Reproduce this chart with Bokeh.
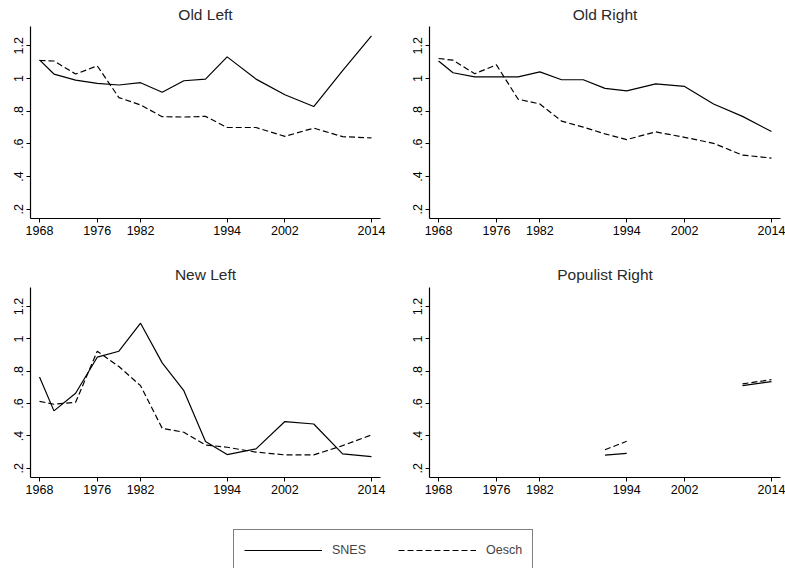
import numpy as np
from bokeh.plotting import figure
from bokeh.layouts import column, row
from bokeh.models import (FixedTicker, CustomJSTickFormatter, Range1d, Legend,
                          LegendItem, ColumnDataSource)
from bokeh.embed import file_html
from bokeh.resources import INLINE

nan = float("nan")

years = [1968, 1970, 1973, 1976, 1979, 1982, 1985, 1988, 1991, 1994,
         1998, 2002, 2006, 2010, 2014]
x_ticks = [1968, 1976, 1982, 1994, 2002, 2014]
y_ticks = [0.2, 0.4, 0.6, 0.8, 1.0, 1.2]

panel_titles = ["Old Left", "Old Right", "New Left", "Populist Right"]
series_names = ["SNES", "Oesch"]

old_left_snes = [1.114, 1.027, 0.990, 0.970, 0.960, 0.974, 0.916, 0.986, 0.996,
                 1.132, 0.996, 0.900, 0.828, 1.048, 1.260]
old_left_oesch = [1.110, 1.107, 1.027, 1.077, 0.883, 0.838, 0.766, 0.764, 0.768,
                  0.700, 0.700, 0.646, 0.696, 0.644, 0.636]

old_right_snes = [1.107, 1.035, 1.010, 1.010, 1.010, 1.040, 0.992, 0.992, 0.939,
                  0.924, 0.967, 0.951, 0.844, 0.768, 0.675]
old_right_oesch = [1.122, 1.112, 1.029, 1.083, 0.873, 0.844, 0.739, 0.702, 0.661,
                   0.626, 0.673, 0.640, 0.603, 0.531, 0.513]

new_left_snes = [0.765, 0.555, 0.664, 0.887, 0.924, 1.097, 0.852, 0.680, 0.365,
                 0.285, 0.320, 0.489, 0.474, 0.289, 0.272]
new_left_oesch = [0.614, 0.596, 0.608, 0.924, 0.829, 0.711, 0.447, 0.423, 0.344,
                  0.330, 0.300, 0.283, 0.283, 0.340, 0.406]

populist_right_snes = [nan, nan, nan, nan, nan, nan, nan, nan, 0.281,
                       0.292, nan, nan, nan, 0.711, 0.736]
populist_right_oesch = [nan, nan, nan, nan, nan, nan, nan, nan, 0.315,
                        0.367, nan, nan, nan, 0.722, 0.748]

FONT = "Liberation Sans"
DASH = "6 3"


def panel(title, snes, oesch, width, height, mbl, mbr, mbt, mbb, standoff):
    p = figure(width=width, height=height,
               x_range=Range1d(1966.75, 2015.25), y_range=Range1d(0.143, 1.318),
               output_backend="svg", toolbar_location=None,
               min_border_left=mbl, min_border_right=mbr,
               min_border_top=mbt, min_border_bottom=mbb)
    p.title.text = title
    p.title.align = "center"
    p.title.text_font = FONT
    p.title.text_font_size = "15.5px"
    p.title.text_font_style = "normal"
    p.title.text_color = "#2a2a2a"
    p.title.standoff = standoff
    src = ColumnDataSource(dict(x=years,
                                s=np.array(snes, dtype=float),
                                o=np.array(oesch, dtype=float)))
    p.line("x", "s", source=src, line_color="black", line_width=1.2)
    p.line("x", "o", source=src, line_color="black", line_width=1.2,
           line_dash=DASH)
    p.xgrid.visible = False
    p.ygrid.visible = False
    p.outline_line_color = None
    p.background_fill_color = "white"
    p.border_fill_color = "white"
    p.xaxis.ticker = FixedTicker(ticks=x_ticks)
    p.yaxis.ticker = FixedTicker(ticks=y_ticks)
    p.yaxis.formatter = CustomJSTickFormatter(code="""
        let s = tick.toFixed(1);
        if (s.endsWith('.0')) { s = s.slice(0, -2); }
        if (s.startsWith('0')) { s = s.slice(1); }
        return s;
    """)
    p.yaxis.major_label_orientation = "vertical"
    for ax in (p.xaxis[0], p.yaxis[0]):
        ax.minor_tick_line_color = None
        ax.major_tick_in = 0
        ax.major_tick_out = 4
        ax.major_tick_line_color = "black"
        ax.axis_line_color = "black"
        ax.axis_line_width = 1.2
        ax.major_label_text_font = FONT
        ax.major_label_text_font_size = "12.5px"
        ax.major_label_text_color = "black"
        ax.major_label_standoff = 3
    return p


# row 1: page y 0-255, frames 26-218 ; row 2: page y 255-503, frames 287-477
p1 = panel(panel_titles[0], old_left_snes, old_left_oesch, 404, 255, 30, 24, 26, 37, 7)
p2 = panel(panel_titles[1], old_right_snes, old_right_oesch, 381, 255, 25, 5, 26, 37, 7)
p3 = panel(panel_titles[2], new_left_snes, new_left_oesch, 404, 248, 30, 24, 32, 26, 9)
p4 = panel(panel_titles[3], populist_right_snes, populist_right_oesch, 381, 248, 25, 5, 32, 26, 9)

leg = figure(width=785, height=65, x_range=Range1d(0, 1), y_range=Range1d(0, 1),
             output_backend="svg", toolbar_location=None,
             min_border_left=0, min_border_right=0, min_border_top=0,
             min_border_bottom=0)
leg.axis.visible = False
leg.xgrid.visible = False
leg.ygrid.visible = False
leg.outline_line_color = None
r1 = leg.line([nan], [nan], line_color="black", line_width=1.2)
r2 = leg.line([nan], [nan], line_color="black", line_width=1.2, line_dash=DASH)
legend = Legend(items=[LegendItem(label=series_names[0], renderers=[r1]),
                       LegendItem(label=series_names[1], renderers=[r2])],
                orientation="horizontal", location=(233, -3),
                glyph_width=78, glyph_height=20, label_standoff=10,
                spacing=32, padding=10, margin=0,
                label_text_font=FONT, label_text_font_size="12.5px",
                border_line_color="black", border_line_width=1,
                background_fill_color="white", background_fill_alpha=1)
leg.add_layout(legend)

layout = column(row(p1, p2), row(p3, p4), leg)

open("out.html", "w").write(file_html(layout, INLINE))
